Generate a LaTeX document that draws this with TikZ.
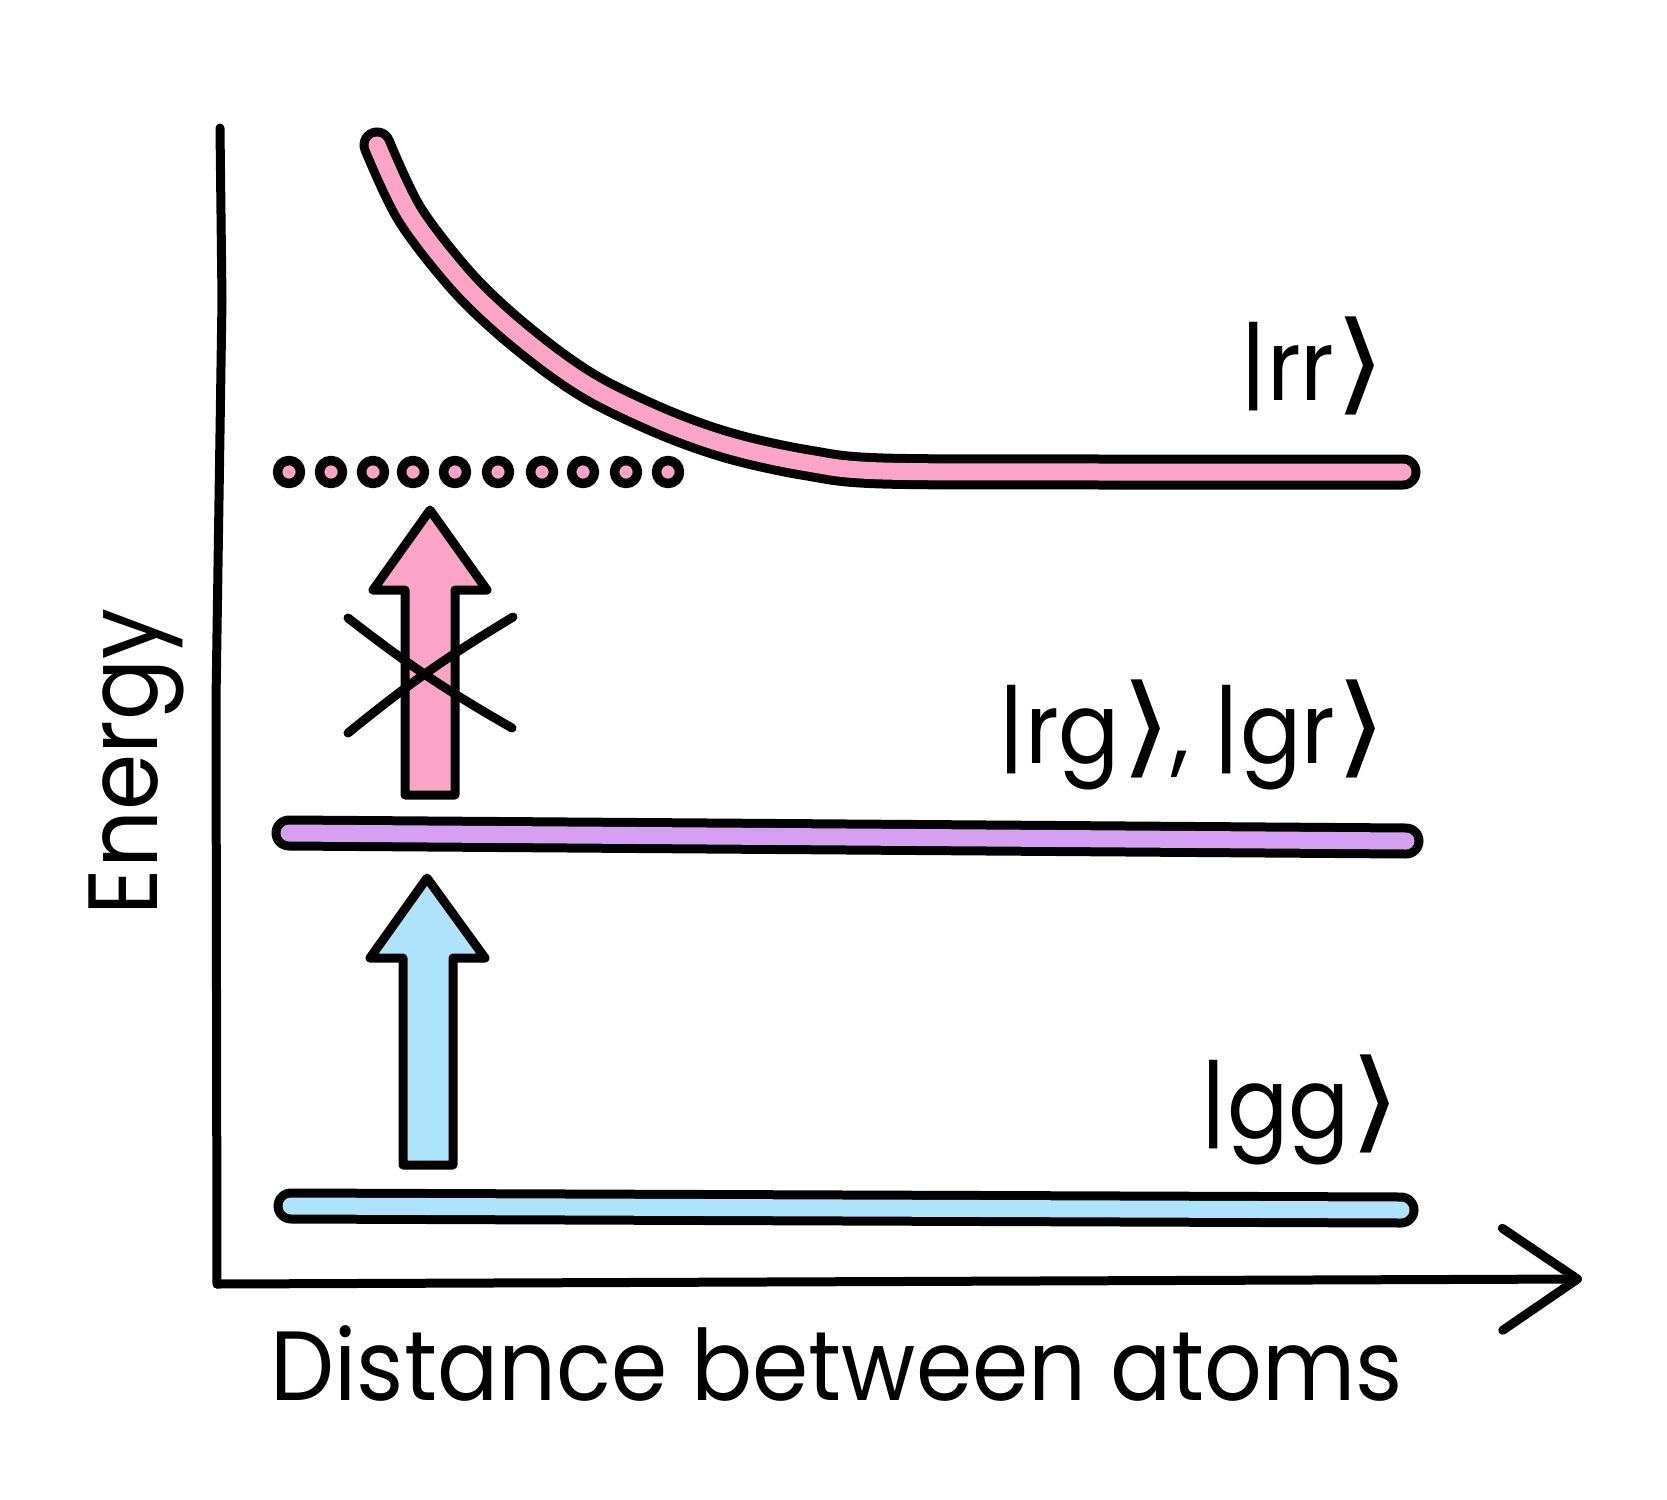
\documentclass[tikz,border=0pt]{standalone}
\usepackage{fontspec}
\setmainfont{Poppins}[FakeStretch=0.92]
\newfontfamily\symfont{DejaVu Sans}
\usetikzlibrary{arrows.meta}

\definecolor{rrpink}{HTML}{FBA4C8}
\definecolor{rgpurple}{HTML}{D6A0F2}
\definecolor{ggblue}{HTML}{ADE3FB}
\newcommand\kclose{\scalebox{1.35}[1.12]{\symfont ⟩}}

\begin{document}
\begin{tikzpicture}[
  x=0.1mm,y=-0.1mm,
  line cap=round,line join=round,
  ink/.style={line width=0.9mm},
  band/.style={line width=0.9mm,double distance=1.7mm},
  atom/.style={circle,draw,line width=0.95mm,fill=rrpink,minimum size=2.3mm,inner sep=0pt},
  fatarrow/.style={draw,line width=0.9mm},
  lbl/.style={font=\fontsize{28}{32}\selectfont,inner sep=0pt}
]
\useasboundingbox (0,0) rectangle (1667,1500);
\coordinate (ytop) at (220,128);
\coordinate (origin) at (217,1284);
\coordinate (xend) at (1582,1279);
\draw[ink] (ytop) -- (222,300) -- (216,700) -- (origin);
\draw[ink,-{Straight Barb[length=7.5mm,width=10.2mm,round]}] (origin) -- (xend);
\node[lbl,rotate=90,anchor=base] (energy) at (157,762) {Energy};
\node[lbl,anchor=base west] (dist) at (270,1400) {Distance between atoms};
\coordinate (gg-l) at (291,1206);
\coordinate (gg-r) at (1401,1210);
\coordinate (rg-l) at (289,833);
\coordinate (rg-r) at (1406,841);
\draw[band,double=ggblue] (gg-l) -- (gg-r);
\draw[band,double=rgpurple] (rg-l) -- (rg-r);
\draw[band,double=rrpink] plot[smooth,tension=0.55] coordinates {(377,145) (409,213) (457,276) (500,319) (553,362) (601,393) (670,425) (734,447) (808,463) (883,471) (1100,472) (1403,472)};
\foreach \x [count=\i] in {289,331,373,413,455,498,542,583,626,668}
  \node[atom] (a\i) at (\x,472) {};
\coordinate (gg-up) at (428,1165);
\coordinate (gg-tip) at (427,878);
\draw[fatarrow,fill=ggblue] (gg-up) ++(-25,0) -- ++(0,-207) -- ++(-33,0) -- (gg-tip) -- ++(58,80) -- ++(-32,0) -- ++(0,207) -- cycle;
\coordinate (rg-up) at (430,795);
\coordinate (rg-tip) at (430,510);
\draw[fatarrow,fill=rrpink] (rg-up) ++(-25,0) -- ++(0,-205) -- ++(-32,0) -- (rg-tip) -- ++(57,80) -- ++(-32,0) -- ++(0,205) -- cycle;
\coordinate (c1) at (348,618);
\coordinate (c2) at (512,728);
\coordinate (c3) at (348,733);
\coordinate (c4) at (513,617);
\draw[ink] (c1) to[bend right=4] (c2);
\draw[ink] (c3) to[bend left=4] (c4);
\node[lbl,anchor=base west] (rr) at (1240,400) {|rr\kclose};
\node[lbl,anchor=base west] (rg) at (998,763) {|rg\kclose, |gr\kclose};
\node[lbl,anchor=base west] (gg) at (1200,1138) {|gg\kclose};
\end{tikzpicture}
\end{document}
